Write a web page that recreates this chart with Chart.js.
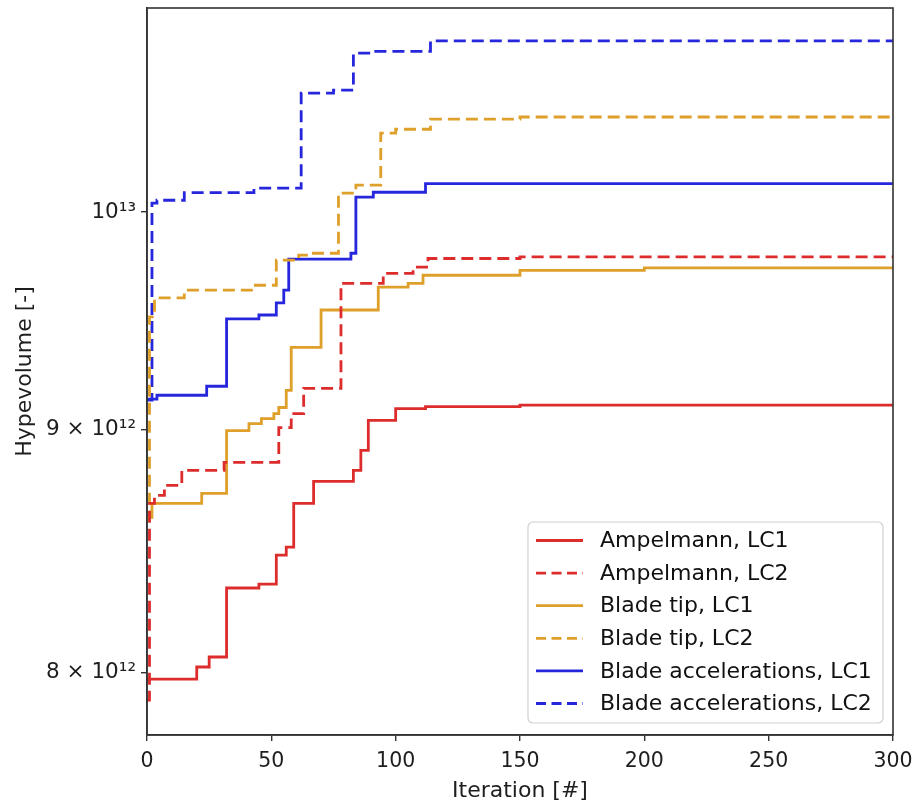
<!DOCTYPE html>
<html>
<head>
<meta charset="UTF-8">
<title>Hypervolume</title>
<script src="https://cdn.jsdelivr.net/npm/chart.js"></script>
<style>
  body { margin: 0; background: #fff; }
  #wrap { position: relative; width: 917px; height: 804px; }
</style>
</head>
<body>
<div id="wrap"><canvas id="hvChart" width="917" height="804"></canvas></div>
<script>
// iteration where the value changes, and the hypervolume from there on
const itAmpLC1 = [0, 20, 25, 32, 45, 52, 56, 59, 67, 83, 86, 89, 100, 112, 150, 300];
const hvAmpLC1 = [7.975e12, 8.022e12, 8.061e12, 8.335e12, 8.351e12, 8.469e12, 8.502e12, 8.684e12, 8.777e12, 8.824e12, 8.910e12, 9.040e12, 9.092e12, 9.101e12, 9.107e12, 9.108e12];

const itAmpLC2 = [0, 1, 3, 7, 14, 31, 53, 58, 63, 78, 95, 107, 113, 150, 300];
const hvAmpLC2 = [7.894e12, 8.684e12, 8.718e12, 8.760e12, 8.824e12, 8.858e12, 9.009e12, 9.070e12, 9.182e12, 9.661e12, 9.708e12, 9.737e12, 9.778e12, 9.786e12, 9.787e12];

const itTipLC1 = [0, 2, 22, 32, 41, 46, 51, 53, 56, 58, 70, 93, 105, 111, 150, 200, 300];
const hvTipLC1 = [8.625e12, 8.684e12, 8.726e12, 8.996e12, 9.026e12, 9.048e12, 9.070e12, 9.097e12, 9.173e12, 9.366e12, 9.537e12, 9.643e12, 9.661e12, 9.699e12, 9.722e12, 9.734e12, 9.736e12];

const itTipLC2 = [0, 1, 3, 15, 42, 52, 61, 66, 77, 84, 94, 100, 114, 150, 300];
const hvTipLC2 = [8.613e12, 9.505e12, 9.593e12, 9.629e12, 9.652e12, 9.770e12, 9.794e12, 9.803e12, 1.0093e13, 1.0132e13, 1.0391e13, 1.0410e13, 1.0461e13, 1.0472e13, 1.0474e13];

const itAccLC1 = [0, 4, 24, 32, 45, 52, 55, 57, 82, 84, 91, 112, 300];
const hvAccLC1 = [9.134e12, 9.151e12, 9.191e12, 9.496e12, 9.514e12, 9.570e12, 9.629e12, 9.775e12, 9.803e12, 1.0073e13, 1.0097e13, 1.0139e13, 1.0139e13];

const itAccLC2 = [0, 2, 4, 15, 43, 62, 75, 83, 92, 114, 300];
const hvAccLC2 = [9.13e12, 1.0044e13, 1.0058e13, 1.0095e13, 1.0117e13, 1.0594e13, 1.0609e13, 1.0801e13, 1.0810e13, 1.0866e13, 1.0868e13];

const legendLabels = ['Ampelmann, LC1', 'Ampelmann, LC2', 'Blade tip, LC1', 'Blade tip, LC2',
                      'Blade accelerations, LC1', 'Blade accelerations, LC2'];
const xTicks = [0, 50, 100, 150, 200, 250, 300];
const yTicks = [8e12, 9e12, 1e13];
const yTickLabels = ['8 \u00d7 10\u00b9\u00b2', '9 \u00d7 10\u00b9\u00b2', '10\u00b9\u00b3'];

const RED = '#dd2c2c', ORANGE = '#dea02a', BLUE = '#2626dd';
const FONT = 'DejaVu Sans';

function pts(xs, ys) {
    return xs.map((x, i) => ({ x: x, y: ys[i] }));
}

function series(label, xs, ys, color, dashed) {
    return {
        label: label,
        data: pts(xs, ys),
        borderColor: color,
        backgroundColor: color,
        borderWidth: 2.8,
        borderDash: dashed ? [12, 6] : [],
        pointRadius: 0,
        // chart.js 'before' = hold the old value, then jump at the new x
        stepped: 'before',
        fill: false
    };
}

// box round the plot area, like the matplotlib spines
const frame = {
    id: 'frame',
    afterDatasetsDraw(chart) {
        const a = chart.chartArea, ctx = chart.ctx;
        ctx.save();
        ctx.strokeStyle = '#333';
        ctx.lineWidth = 1.6;
        ctx.strokeRect(a.left, a.top, a.right - a.left, a.bottom - a.top);
        ctx.restore();
    }
};

// legend drawn inside the plot, lower right
const boxLegend = {
    id: 'boxLegend',
    afterDraw(chart) {
        const ctx = chart.ctx;
        const x0 = 528, y0 = 522, w = 355, h = 201;
        ctx.save();
        ctx.fillStyle = 'rgba(255,255,255,0.85)';
        ctx.strokeStyle = '#d0d0d0';
        ctx.lineWidth = 1.2;
        ctx.beginPath();
        ctx.roundRect(x0, y0, w, h, 5);
        ctx.fill();
        ctx.stroke();
        ctx.font = '22px "' + FONT + '"';
        ctx.textBaseline = 'middle';
        ctx.fillStyle = '#111';
        chart.data.datasets.forEach((ds, i) => {
            const y = 540.5 + i * 32.6;
            ctx.strokeStyle = ds.borderColor;
            ctx.lineWidth = ds.borderWidth;
            ctx.setLineDash(ds.borderDash.length ? [10, 5.5] : []);
            ctx.beginPath();
            ctx.moveTo(536, y);
            ctx.lineTo(583, y);
            ctx.stroke();
            ctx.setLineDash([]);
            ctx.fillText(ds.label, 600, y + 1);
        });
        ctx.restore();
    }
};

new Chart(document.getElementById('hvChart'), {
    type: 'line',
    data: {
        datasets: [
            series(legendLabels[0], itAmpLC1, hvAmpLC1, RED, false),
            series(legendLabels[1], itAmpLC2, hvAmpLC2, RED, true),
            series(legendLabels[2], itTipLC1, hvTipLC1, ORANGE, false),
            series(legendLabels[3], itTipLC2, hvTipLC2, ORANGE, true),
            series(legendLabels[4], itAccLC1, hvAccLC1, BLUE, false),
            series(legendLabels[5], itAccLC2, hvAccLC2, BLUE, true)
        ]
    },
    options: {
        responsive: false,
        animation: false,
        layout: { padding: { top: 8, right: 24, left: 0, bottom: 0 } },
        plugins: {
            legend: { display: false },
            tooltip: { enabled: false }
        },
        scales: {
            x: {
                type: 'linear',
                min: 0,
                max: 300,
                afterBuildTicks: s => { s.ticks = xTicks.map(v => ({ value: v })); },
                afterFit: s => { s.height = 69; s.paddingLeft = 0; s.paddingRight = 0; },
                grid: { drawOnChartArea: false, drawTicks: true, tickLength: 6, color: '#333', lineWidth: 1.4 },
                border: { display: true, color: '#333', width: 1.6 },
                ticks: { color: '#1e1e1e', font: { family: FONT, size: 20.5 }, padding: 8, maxRotation: 0 },
                title: { display: true, text: 'Iteration [#]', color: '#1e1e1e',
                         font: { family: FONT, size: 22 }, padding: { top: 0, bottom: 0 } }
            },
            y: {
                type: 'logarithmic',
                min: 7.762e12,
                max: 1.104e13,
                bounds: 'data',
                afterBuildTicks: s => { s.ticks = yTicks.map(v => ({ value: v })); },
                afterFit: s => { s.width = 147; s.paddingTop = 0; s.paddingBottom = 0; },
                grid: { drawOnChartArea: false, drawTicks: true, tickLength: 6, color: '#333', lineWidth: 1.4 },
                border: { display: true, color: '#333', width: 1.6 },
                ticks: {
                    color: '#1e1e1e',
                    font: { family: FONT, size: 21.5 },
                    padding: 5,
                    callback: v => {
                        const i = yTicks.indexOf(v);
                        return i >= 0 ? yTickLabels[i] : '';
                    }
                },
                title: { display: true, text: 'Hypevolume [-]', color: '#1e1e1e',
                         font: { family: FONT, size: 22 }, padding: { top: 12, bottom: 0 } }
            }
        }
    },
    plugins: [frame, boxLegend]
});
</script>
</body>
</html>
